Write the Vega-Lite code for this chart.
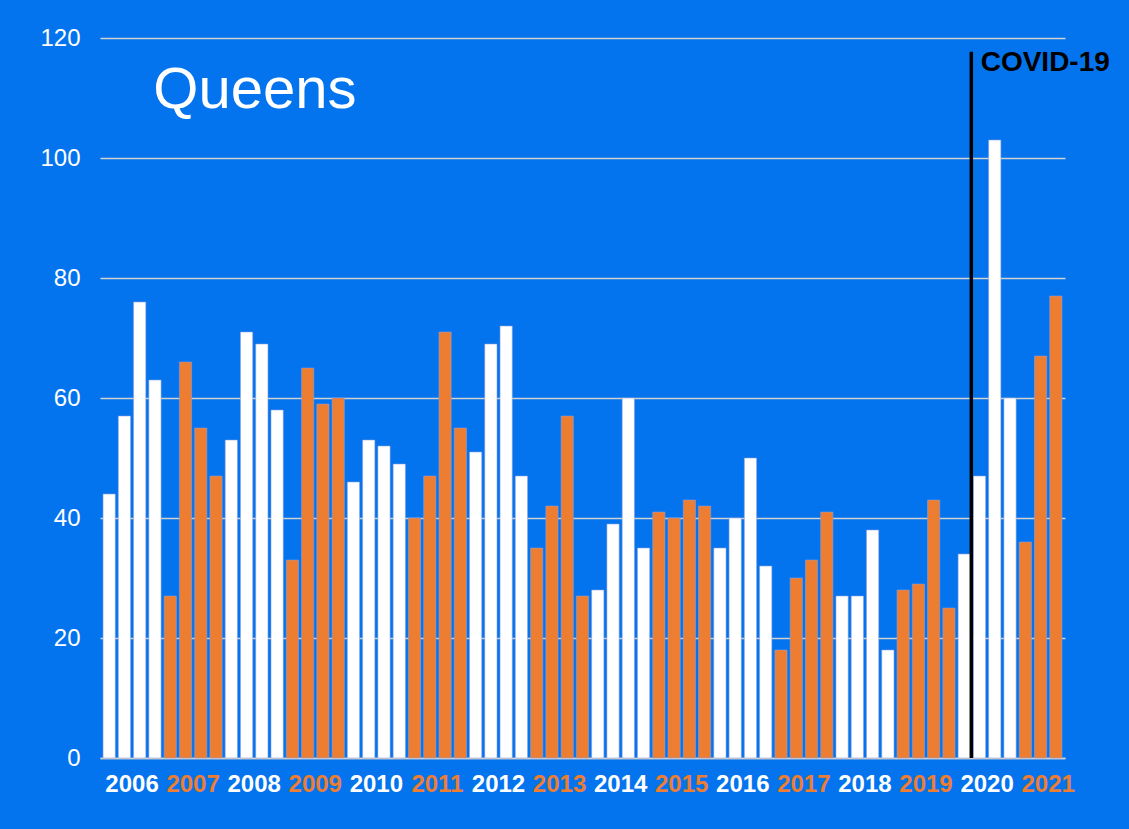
{
  "$schema": "https://vega.github.io/schema/vega-lite/v6.json",
  "width": 965,
  "height": 720,
  "autosize": {"type": "none"},
  "padding": {"left": 100, "top": 38, "right": 64, "bottom": 71},
  "background": "#0474EE",
  "config": {
    "view": {"stroke": null},
    "font": "Liberation Sans"
  },
  "datasets": {
    "counts": [
      {"period": "2006-Q1", "year": 2006, "value": 44},
      {"period": "2006-Q2", "year": 2006, "value": 57},
      {"period": "2006-Q3", "year": 2006, "value": 76},
      {"period": "2006-Q4", "year": 2006, "value": 63},
      {"period": "2007-Q1", "year": 2007, "value": 27},
      {"period": "2007-Q2", "year": 2007, "value": 66},
      {"period": "2007-Q3", "year": 2007, "value": 55},
      {"period": "2007-Q4", "year": 2007, "value": 47},
      {"period": "2008-Q1", "year": 2008, "value": 53},
      {"period": "2008-Q2", "year": 2008, "value": 71},
      {"period": "2008-Q3", "year": 2008, "value": 69},
      {"period": "2008-Q4", "year": 2008, "value": 58},
      {"period": "2009-Q1", "year": 2009, "value": 33},
      {"period": "2009-Q2", "year": 2009, "value": 65},
      {"period": "2009-Q3", "year": 2009, "value": 59},
      {"period": "2009-Q4", "year": 2009, "value": 60},
      {"period": "2010-Q1", "year": 2010, "value": 46},
      {"period": "2010-Q2", "year": 2010, "value": 53},
      {"period": "2010-Q3", "year": 2010, "value": 52},
      {"period": "2010-Q4", "year": 2010, "value": 49},
      {"period": "2011-Q1", "year": 2011, "value": 40},
      {"period": "2011-Q2", "year": 2011, "value": 47},
      {"period": "2011-Q3", "year": 2011, "value": 71},
      {"period": "2011-Q4", "year": 2011, "value": 55},
      {"period": "2012-Q1", "year": 2012, "value": 51},
      {"period": "2012-Q2", "year": 2012, "value": 69},
      {"period": "2012-Q3", "year": 2012, "value": 72},
      {"period": "2012-Q4", "year": 2012, "value": 47},
      {"period": "2013-Q1", "year": 2013, "value": 35},
      {"period": "2013-Q2", "year": 2013, "value": 42},
      {"period": "2013-Q3", "year": 2013, "value": 57},
      {"period": "2013-Q4", "year": 2013, "value": 27},
      {"period": "2014-Q1", "year": 2014, "value": 28},
      {"period": "2014-Q2", "year": 2014, "value": 39},
      {"period": "2014-Q3", "year": 2014, "value": 60},
      {"period": "2014-Q4", "year": 2014, "value": 35},
      {"period": "2015-Q1", "year": 2015, "value": 41},
      {"period": "2015-Q2", "year": 2015, "value": 40},
      {"period": "2015-Q3", "year": 2015, "value": 43},
      {"period": "2015-Q4", "year": 2015, "value": 42},
      {"period": "2016-Q1", "year": 2016, "value": 35},
      {"period": "2016-Q2", "year": 2016, "value": 40},
      {"period": "2016-Q3", "year": 2016, "value": 50},
      {"period": "2016-Q4", "year": 2016, "value": 32},
      {"period": "2017-Q1", "year": 2017, "value": 18},
      {"period": "2017-Q2", "year": 2017, "value": 30},
      {"period": "2017-Q3", "year": 2017, "value": 33},
      {"period": "2017-Q4", "year": 2017, "value": 41},
      {"period": "2018-Q1", "year": 2018, "value": 27},
      {"period": "2018-Q2", "year": 2018, "value": 27},
      {"period": "2018-Q3", "year": 2018, "value": 38},
      {"period": "2018-Q4", "year": 2018, "value": 18},
      {"period": "2019-Q1", "year": 2019, "value": 28},
      {"period": "2019-Q2", "year": 2019, "value": 29},
      {"period": "2019-Q3", "year": 2019, "value": 43},
      {"period": "2019-Q4", "year": 2019, "value": 25},
      {"period": "2020-Q1", "year": 2020, "value": 34},
      {"period": "2020-Q2", "year": 2020, "value": 47},
      {"period": "2020-Q3", "year": 2020, "value": 103},
      {"period": "2020-Q4", "year": 2020, "value": 60},
      {"period": "2021-Q1", "year": 2021, "value": 36},
      {"period": "2021-Q2", "year": 2021, "value": 67},
      {"period": "2021-Q3", "year": 2021, "value": 77}
    ],
    "covid": [
      {"period": "2020-Q2", "label": "COVID-19"}
    ],
    "heading": [
      {"period": "2006-Q4", "label": "Queens"}
    ]
  },
  "layer": [
    {
      "data": {"name": "counts"},
      "mark": {"type": "bar", "stroke": "#8C9FE0", "strokeWidth": 0.8, "strokeOpacity": 0.7},
      "encoding": {
        "x": {
          "field": "period",
          "type": "ordinal",
          "sort": null,
          "scale": {"paddingInner": 0.2, "paddingOuter": 0.2},
          "axis": {
            "title": null,
            "labelExpr": "indexof(datum.value, 'Q2') >= 0 ? substring(datum.value, 0, 4) : ''",
            "labelOffset": 7.6,
            "labelAngle": 0,
            "labelOverlap": false,
            "labelFont": "Liberation Sans",
            "labelFontSize": 24,
            "labelFontWeight": "bold",
            "labelPadding": 14,
            "labelColor": {
              "condition": {"test": "toNumber(substring(datum.value, 0, 4)) % 2 === 1", "value": "#ED7D31"},
              "value": "white"
            },
            "ticks": false,
            "domain": true,
            "domainColor": "#D0D0D0",
            "domainWidth": 1.5,
            "grid": false
          }
        },
        "y": {
          "field": "value",
          "type": "quantitative",
          "scale": {"domain": [0, 120], "nice": false},
          "axis": {
            "title": null,
            "values": [0, 20, 40, 60, 80, 100, 120],
            "labelFont": "Liberation Sans",
            "labelFontSize": 24,
            "labelColor": "white",
            "labelPadding": 20,
            "ticks": false,
            "domain": false,
            "grid": true,
            "gridColor": "#D0D0D0",
            "gridWidth": 1.5,
            "gridOpacity": 1
          }
        },
        "color": {
          "condition": {"test": "datum.year % 2 === 1", "value": "#ED7D31"},
          "value": "white"
        }
      }
    },
    {
      "data": {"name": "covid"},
      "mark": {"type": "rule", "color": "black", "strokeWidth": 3.5},
      "encoding": {
        "x": {"field": "period", "type": "ordinal", "sort": null, "bandPosition": -0.17},
        "y": {"datum": 0},
        "y2": {"datum": 117.7}
      }
    },
    {
      "data": {"name": "covid"},
      "mark": {
        "type": "text",
        "align": "left",
        "baseline": "alphabetic",
        "dx": 7.3,
        "font": "Liberation Sans",
        "fontSize": 28,
        "fontWeight": "bold",
        "color": "black"
      },
      "encoding": {
        "x": {"field": "period", "type": "ordinal", "sort": null, "bandPosition": 0},
        "y": {"datum": 114.5},
        "text": {"field": "label"}
      }
    },
    {
      "data": {"name": "heading"},
      "mark": {
        "type": "text",
        "align": "left",
        "baseline": "alphabetic",
        "dx": 4.5,
        "font": "Liberation Sans",
        "fontSize": 58,
        "fontWeight": "normal",
        "color": "white"
      },
      "encoding": {
        "x": {"field": "period", "type": "ordinal", "sort": null, "bandPosition": 0},
        "y": {"datum": 108.4},
        "text": {"field": "label"}
      }
    }
  ]
}
